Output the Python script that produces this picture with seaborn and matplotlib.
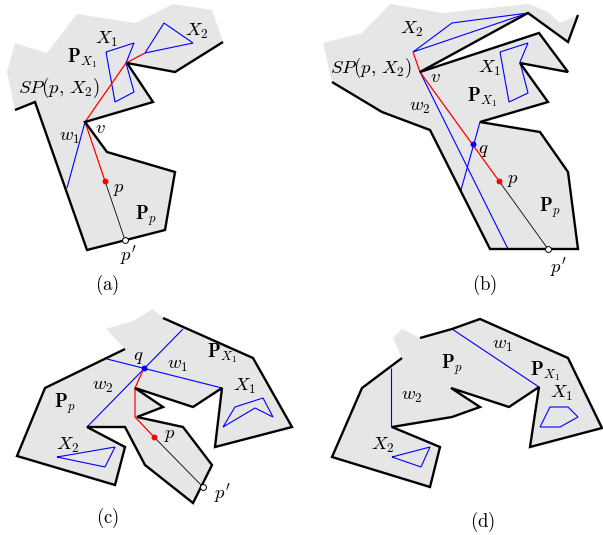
import matplotlib
matplotlib.use("Agg")
import matplotlib.pyplot as plt
import seaborn as sns
import pandas as pd

# ---------------- data (pixel coordinates of the figure) ----------------
# panel (a)
A_WALL = [(15,110),(35,102),(87,250),(165,230),(175,172),(107,152),(85,122),
          (153,102),(127,63),(175,72),(223,42)]
A_TOP = [(212,10),(173,4),(135,23),(77,14),(47,53),(15,43),(7,72)]
A_X1 = [(106,52),(134,43),(126,63),(134,92),(115,102)]
A_X2 = [(164,23),(193,43),(145,53)]
A_RED = [(105,181),(85,122),(126,63),(145,53)]
A_BLUE = [[(85,122),(67,188)]]
A_SEG = [(105,181),(125,240)]
A_RED_PTS = [(105,181)]
A_BLUE_PTS = []
A_WHITE_PTS = [(125,240)]
A_LABELS = [("$X_1$",107,39),(r"$\mathbf{P}_{X_1}$",82,58),("$SP(p,\\,X_2)$",59,88),
            ("$X_2$",197,31),("$w_1$",69,137),("$v$",100,128),("$p$",119,189),
            (r"$\mathbf{P}_p$",146,216),("$p'$",128,255),(r"$\mathrm{(a)}$",107,285)]

# panel (b)
B_WALL = [(332,82),(382,112),(430,130),(490,249),(578,249),(568,172),(540,132),
          (480,122),(548,102),(520,63),(568,72),(539,33),(420,72),(528,13),
          (568,42),(578,15)]
B_TOP = [(560,23),(548,12),(528,4),(443,13),(390,4),(362,33),(323,43)]
B_X1 = [(500,52),(528,43),(520,62),(528,93),(509,102)]
B_X2 = [(413,52),(452,23),(528,13)]
B_RED = [(413,52),(420,72),(499,181)]
B_BLUE = [[(420,72),(508,249)],[(480,122),(461,190)]]
B_SEG = [(499,181),(548,249)]
B_RED_PTS = [(499,181)]
B_BLUE_PTS = [(473,144)]
B_WHITE_PTS = [(548,249)]
B_LABELS = [("$X_2$",412,29),("$SP(p,\\,X_2)$",371,68),("$v$",435,77),("$X_1$",490,68),
            (r"$\mathbf{P}_{X_1}$",482,97),("$w_2$",420,107),("$q$",483,150),
            ("$p$",513,180),(r"$\mathbf{P}_p$",550,208),("$p'$",558,267),
            (r"$\mathrm{(b)}$",485,285)]

# panel (c)
C_WALL = [(125,349),(45,388),(17,456),(115,485),(125,447),(87,427),(125,427),
          (145,465),(193,503),(212,465),(183,427),(137,417),(163,407),(135,388),
          (193,407),(222,388),(215,447),(292,427),(253,358),(163,318)]
C_TOP = [(153,309),(133,321),(106,329)]
C_X1 = [(223,427),(235,407),(263,398),(273,417),(255,408)]
C_X2 = [(57,457),(115,447),(105,467)]
C_RED = [(144,368),(135,388),(135,417),(154,437)]
C_BLUE = [[(107,359),(222,388)],[(87,427),(183,329)]]
C_SEG = [(154,437),(203,487)]
C_RED_PTS = [(154,437)]
C_BLUE_PTS = [(144,368)]
C_WHITE_PTS = [(203,487)]
C_LABELS = [("$q$",138,357),("$w_1$",177,365),(r"$\mathbf{P}_{X_1}$",222,353),
            ("$X_1$",245,386),("$w_2$",103,386),(r"$\mathbf{P}_p$",65,404),
            ("$p$",170,435),("$X_2$",68,445),("$p'$",222,493),(r"$\mathrm{(c)}$",107,518)]

# panel (d)
D_WALL = [(402,358),(362,388),(332,457),(430,487),(440,447),(392,427),(452,417),
          (480,407),(451,388),(509,407),(539,387),(530,447),(602,428),(568,358),
          (480,319),(452,329),(420,338)]
D_TOP = [(402,329),(393,338)]
D_X1 = [(540,427),(550,407),(568,407),(578,417),(560,427)]
D_X2 = [(392,457),(430,447),(421,467)]
D_RED = []
D_BLUE = [[(452,329),(539,387)],[(391,368),(391,427)]]
D_SEG = []
D_RED_PTS = []
D_BLUE_PTS = []
D_WHITE_PTS = []
D_LABELS = [("$w_1$",502,345),(r"$\mathbf{P}_p$",452,365),(r"$\mathbf{P}_{X_1}$",545,371),
            ("$X_1$",562,393),("$w_2$",412,396),("$X_2$",383,445),(r"$\mathrm{(d)}$",483,522)]

# ---------------- style ----------------
sns.set_theme(style="white")
plt.rcParams["mathtext.fontset"] = "cm"
plt.rcParams["font.family"] = ["DejaVu Serif", "DejaVu Sans"]

GRAY = "#e6e6e6"
BLUE = "#0000ff"
RED = "#ff0000"

fig = plt.figure(figsize=(6.03, 5.35), dpi=100)
ax = fig.add_axes([0, 0, 1, 1])
ax.set_xlim(0, 603)
ax.set_ylim(535, 0)
ax.axis("off")


def line(pts, color, lw, closed=False, z=3):
    if not pts:
        return
    if closed:
        pts = list(pts) + [pts[0]]
    df = pd.DataFrame(pts, columns=["x", "y"])
    sns.lineplot(data=df, x="x", y="y", sort=False, estimator=None, color=color,
                 lw=lw, ax=ax, legend=False, zorder=z, solid_joinstyle="miter",
                 solid_capstyle="butt")


def panel(wall, top, x1, x2, red, blues, seg, red_pts, blue_pts, white_pts, labels):
    poly = wall + top
    ax.fill([p[0] for p in poly], [p[1] for p in poly], color=GRAY, lw=0, zorder=1)
    line(wall, "black", 1.7, z=4)
    line(x1, BLUE, 0.8, closed=True)
    line(x2, BLUE, 0.8, closed=True)
    for b in blues:
        line(b, BLUE, 0.8)
    line(seg, "black", 0.6)
    line(red, RED, 0.9)
    for (x, y) in red_pts:
        ax.scatter([x], [y], s=18, color=RED, zorder=6, lw=0)
    for (x, y) in blue_pts:
        ax.scatter([x], [y], s=18, color=BLUE, zorder=6, lw=0)
    for (x, y) in white_pts:
        ax.scatter([x], [y], s=18, facecolor="white", edgecolor="black", lw=0.7, zorder=6)
    for (t, x, y) in labels:
        ax.text(x, y, t, ha="center", va="center", fontsize=13.5, color="black", zorder=7)


panel(A_WALL, A_TOP, A_X1, A_X2, A_RED, A_BLUE, A_SEG, A_RED_PTS, A_BLUE_PTS, A_WHITE_PTS, A_LABELS)
panel(B_WALL, B_TOP, B_X1, B_X2, B_RED, B_BLUE, B_SEG, B_RED_PTS, B_BLUE_PTS, B_WHITE_PTS, B_LABELS)
panel(C_WALL, C_TOP, C_X1, C_X2, C_RED, C_BLUE, C_SEG, C_RED_PTS, C_BLUE_PTS, C_WHITE_PTS, C_LABELS)
panel(D_WALL, D_TOP, D_X1, D_X2, D_RED, D_BLUE, D_SEG, D_RED_PTS, D_BLUE_PTS, D_WHITE_PTS, D_LABELS)

fig.savefig("out.png", dpi=100)
